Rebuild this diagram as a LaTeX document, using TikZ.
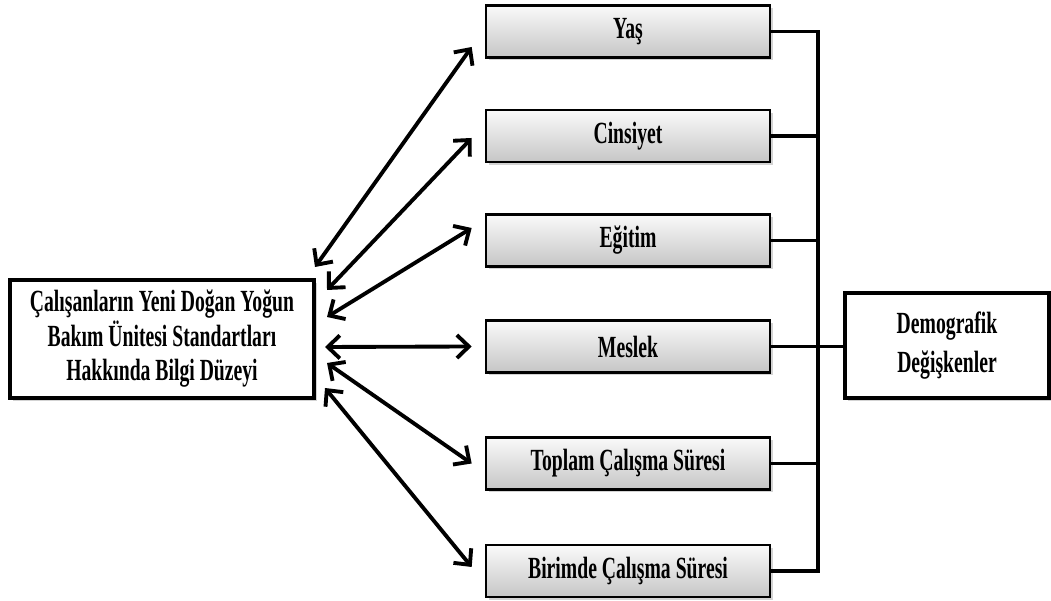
\documentclass[tikz,border=0pt]{standalone}
\usepackage{fontspec}
\setmainfont{Liberation Serif}[FakeStretch=0.64]
\usetikzlibrary{arrows.meta,shadows}
\begin{document}
\begin{tikzpicture}[>={Straight Barb[length=2.4mm,width=4.6mm]},
    varbox/.style={draw, line width=1.5pt, minimum width=5.68cm, minimum height=1.04cm,
      inner sep=0pt, top color=gray!4, bottom color=gray!45,
      drop shadow={opacity=0.35,shadow xshift=0.6mm,shadow yshift=-0.6mm},
      font=\fontsize{17.5}{19}\selectfont\bfseries},
    mainbox/.style={draw, line width=2.2pt, fill=white, inner sep=0pt, align=center,
      drop shadow={opacity=0.35,shadow xshift=0.6mm,shadow yshift=-0.6mm},
      font=\fontsize{17.5}{19.6}\selectfont\bfseries},
    link/.style={<->, line width=2.2pt},
    bus/.style={line width=2.2pt}]
    \useasboundingbox (0,0) rectangle (21.02,12.02);
    % boxes
    \node[mainbox, minimum width=6.08cm, minimum height=2.36cm] (bilgi) at (3.24,5.24)
        {Çalışanların Yeni Doğan Yoğun\\Bakım Ünitesi Standartları\\Hakkında Bilgi Düzeyi};
    \node[varbox] (yas) at (12.56,11.39) {Yaş};
    \node[varbox] (cins) at (12.56,9.30) {Cinsiyet};
    \node[varbox] (egitim) at (12.56,7.21) {Eğitim};
    \node[varbox] (meslek) at (12.56,5.09) {Meslek};
    \node[varbox] (toplam) at (12.56,2.75) {Toplam Çalışma Süresi};
    \node[varbox] (birim) at (12.56,0.60) {Birimde Çalışma Süresi};
    \node[mainbox, minimum width=4.08cm, minimum height=2.1cm,
        font=\fontsize{17.5}{22}\selectfont\bfseries] (demo) at (18.94,5.11)
        {Demografik\\Değişkenler};
    % arrow ends near the left box
    \coordinate (l1) at (6.30,6.68);
    \coordinate (l2) at (6.54,6.22);
    \coordinate (l3) at (6.54,5.68);
    \coordinate (l4) at (6.50,5.08);
    \coordinate (l5) at (6.54,4.76);
    \coordinate (l6) at (6.50,4.26);
    \draw[link] (l1) -- ([xshift=-2.6mm,yshift=-3.1mm]yas.west);
    \draw[link] (l2) -- ([xshift=-2.6mm,yshift=-0.4mm]cins.west);
    \draw[link] (l3) -- ([xshift=-2.6mm,yshift=2.5mm]egitim.west);
    \draw[link] (l4) -- ([xshift=-2.6mm]meslek.west);
    \draw[link] (l5) -- ([xshift=-2.6mm]toplam.west);
    \draw[link] (l6) -- ([xshift=-2.6mm,yshift=0.8mm]birim.west);
    % bus to Demografik
    \coordinate (busx) at (16.36,0);
    \draw[bus] (yas.east) -- (yas.east -| busx) -- (birim.east -| busx) -- (birim.east);
    \draw[bus] (cins.east) -- (cins.east -| busx);
    \draw[bus] (egitim.east) -- (egitim.east -| busx);
    \draw[bus] (toplam.east) -- (toplam.east -| busx);
    \draw[bus] (meslek.east) -- (meslek.east -| demo.west);
\end{tikzpicture}
\end{document}
